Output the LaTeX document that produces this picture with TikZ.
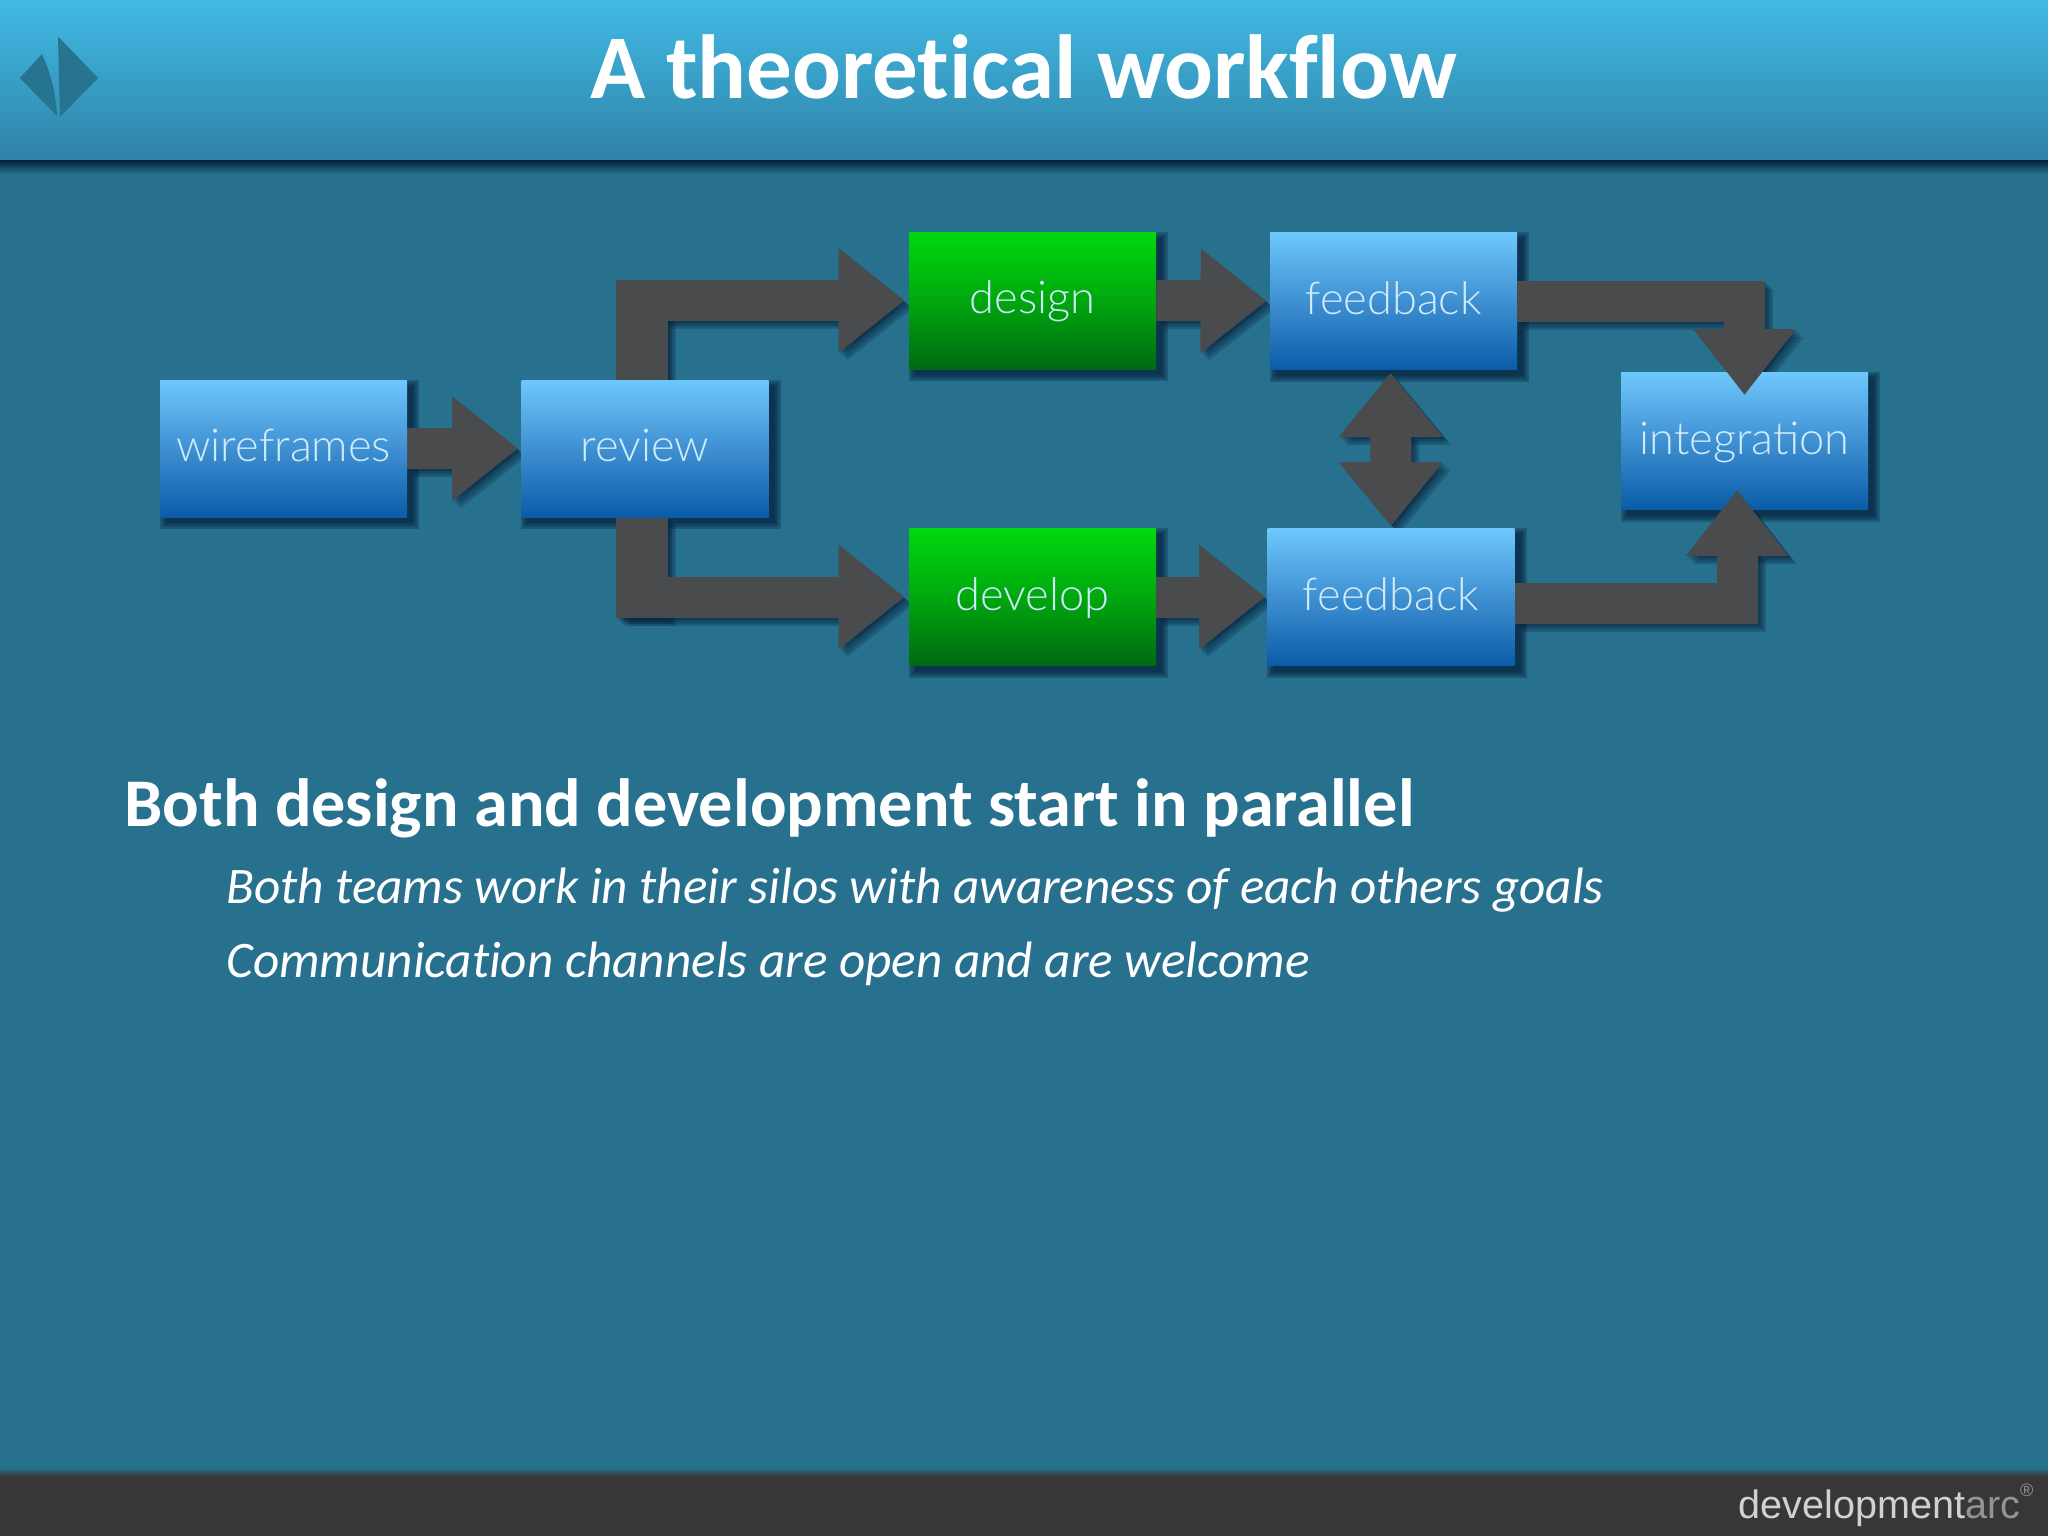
\documentclass[tikz,border=0pt]{standalone}
\usepackage{fontspec}
\setmainfont[Ligatures=NoCommon]{Carlito}
\newfontfamily\gill{Lato Light}
\newfontfamily\footfont{Liberation Sans}
\usetikzlibrary{arrows.meta,calc}
\definecolor{bgcol}{HTML}{27708E}
\definecolor{headtop}{HTML}{40BAE4}
\definecolor{headbot}{HTML}{3083A8}
\definecolor{footcol}{HTML}{393639}
\definecolor{flowcol}{HTML}{4A4B4D}
\definecolor{shadowcol}{HTML}{04203A}
\definecolor{bluetop}{HTML}{6EC8FC}
\definecolor{bluemid}{HTML}{3F90D2}
\definecolor{bluebot}{HTML}{0A5CA8}
\definecolor{greentop}{HTML}{00D80E}
\definecolor{greenmid}{HTML}{00A80E}
\definecolor{greenbot}{HTML}{006A12}
\definecolor{labelcol}{HTML}{CFEBFA}
\definecolor{logocol}{HTML}{26748F}
\pgfdeclarelayer{bg}
\pgfdeclarelayer{shadow}
\pgfdeclarelayer{arrows}
\pgfdeclarelayer{top}
\pgfsetlayers{bg,shadow,arrows,main,top}
\tikzset{
  x=0.5pt,y=-0.5pt,
  boxbase/.style={rectangle,inner sep=0pt,minimum width=123.5pt,minimum height=68.5pt,
    text=labelcol,font=\gill\fontsize{22.6}{26}\selectfont,text height=1.34em,text depth=.03em},
  bluebox/.style={boxbase,top color=bluetop,bottom color=bluebot,middle color=bluemid},
  greenbox/.style={boxbase,top color=greentop,bottom color=greenbot,middle color=greenmid},
  flowline/.style={draw=flowcol,line width=20.5pt,line join=miter},
  headA/.style={-{Triangle[length=33pt,width=50pt]}},
  headB/.style={-{Triangle[length=33pt,width=49pt]}},
  headD/.style={{Triangle[length=32pt,width=50pt]}-{Triangle[length=32pt,width=50pt]}},
  widebar/.style={line width=26pt},
  titletext/.style={text=white,font=\bfseries\fontsize{45.5}{50}\selectfont,anchor=base west,inner sep=0pt},
  leadtext/.style={text=white,font=\bfseries\fontsize{34.1}{38}\selectfont,anchor=base west,inner sep=0pt},
  subtext/.style={text=white,font=\itshape\fontsize{25.6}{30}\selectfont,anchor=base west,inner sep=0pt},
  foottext/.style={font=\footfont\fontsize{19.8}{24}\selectfont,anchor=base west,inner sep=0pt,text=white!82!black},
}
\newcommand\boxshadow[1]{%
  \begin{pgfonlayer}{shadow}
  \foreach \d in {3,2,1,0}{%
    \fill[shadowcol,opacity=.28]
      ([shift={(3pt-\d pt,-3pt-\d pt)}]#1.south west) rectangle ([shift={(3pt+\d pt,-3pt+\d pt)}]#1.north east);}
  \end{pgfonlayer}}
\newcommand\flow[3]{%
  \begin{pgfonlayer}{shadow}
  \foreach \s in {1,2,3,4}{%
    \draw[flowline,#2,draw=shadowcol,opacity=.22,transform canvas={shift={(\s pt,-\s pt)}}] #3;}
  \end{pgfonlayer}
  \begin{pgfonlayer}{#1}
  \draw[flowline,#2] #3;
  \end{pgfonlayer}}
\begin{document}
\begin{tikzpicture}
\useasboundingbox (0,0) rectangle (2048,1536);
\begin{pgfonlayer}{bg}
\fill[bgcol] (0,0) rectangle (2048,1536);
\shade[top color=headtop,bottom color=headbot] (0,0) rectangle (2048,160);
\shade[top color=shadowcol,bottom color=bgcol] (0,160) rectangle (2048,174);
\fill[logocol] (58,36.5) -- (98,78) -- (60,117) -- cycle;
\fill[logocol] (42,54) .. controls (50,72) and (56,92) .. (57,116) -- (20,78) -- cycle;
\shade[top color=bgcol,bottom color=footcol] (0,1468) rectangle (2048,1476);
\fill[footcol] (0,1476) rectangle (2048,1536);
\end{pgfonlayer}
\node[titletext] (title) at (590,98) {A theoretical workflow};
\node[foottext] (foot) at (1738,1518) {development\textcolor{white!58!black}{arc}\raisebox{.55em}{\fontsize{9}{10}\selectfont\textcolor{white!58!black}{®}}};
% boxes
\node[bluebox] (wf) at (283.5,448.5) {wireframes};
\node[bluebox] (rev) at (645,448.5) {review};
\node[greenbox] (des) at (1032.5,300.5) {design};
\node[greenbox] (dev) at (1032.5,597) {develop};
\node[bluebox] (fb1) at (1393.5,301) {feedback};
\node[bluebox] (fb2) at (1391,597) {feedback};
\node[bluebox] (int) at (1744.5,441) {integration};
\foreach \n in {wf,rev,des,dev,fb1,fb2,int}{\boxshadow{\n}}
\coordinate (upcorner) at (rev.north |- des.west);
\coordinate (downcorner) at (rev.south |- dev.west);
% connectors
\flow{arrows}{headA,shorten >=1.5pt}{(wf.east) -- (rev.west)}
\flow{arrows}{headA,shorten >=2pt}{([xshift=-1.5pt]rev.north) |- (des.west)}
\flow{arrows}{headA,shorten >=2pt}{([xshift=-1.5pt]rev.south) |- (dev.west)}
\flow{arrows}{widebar}{([xshift=-1.5pt]rev.north) -- ([xshift=-1.5pt,yshift=10.25pt]upcorner)}
\flow{arrows}{widebar}{([xshift=-1.5pt]rev.south) -- ([xshift=-1.5pt,yshift=-10.25pt]downcorner)}
\flow{arrows}{headA,shorten >=1.5pt}{(des.east) -- (fb1.west)}
\flow{arrows}{headA,shorten >=1pt}{(dev.east) -- (fb2.west)}
\flow{arrows}{headD,shorten >=1pt,shorten <=1.5pt}{([xshift=-1.5pt]fb1.south) -- ([xshift=0pt]fb2.north)}
\flow{top}{headB}{(fb1.east) -| ([yshift=-11.5pt]int.north)}
\flow{top}{headB}{([yshift=-3.2pt]fb2.east) -| ([xshift=-3.7pt,yshift=10pt]int.south)}
% text
\node[leadtext] (lead) at (124,826) {Both design and development start in parallel};
\node[subtext] (s1) at (226,903) {Both teams work in their silos with awareness of each others goals};
\node[subtext] (s2) at (226,977) {Communication channels are open and are welcome};
\end{tikzpicture}
\end{document}
